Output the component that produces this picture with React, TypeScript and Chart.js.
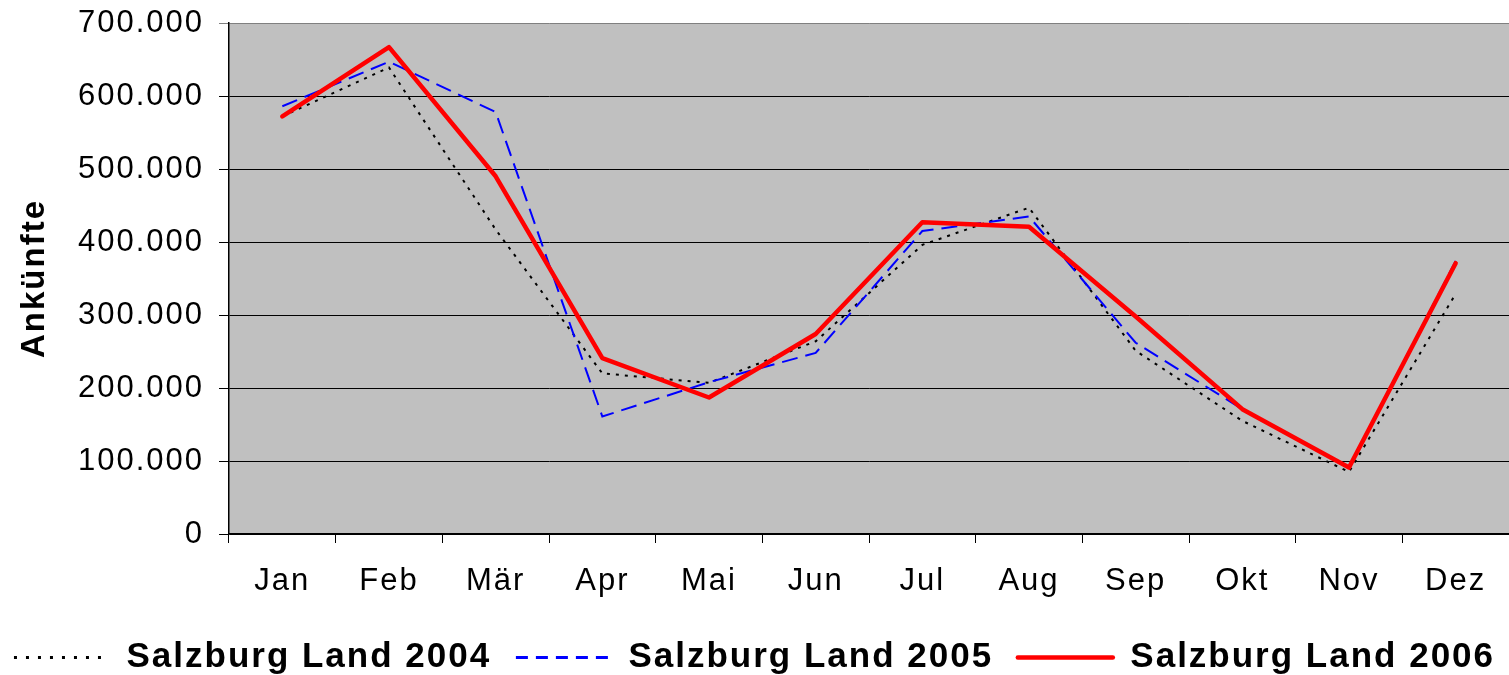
import React, { useEffect, useRef } from 'react';
import { Chart, registerables } from 'chart.js';

Chart.register(...registerables);

const months = ['Jan', 'Feb', 'Mär', 'Apr', 'Mai', 'Jun', 'Jul', 'Aug', 'Sep', 'Okt', 'Nov', 'Dez'];
const series2004 = [572000, 639000, 417000, 220000, 207000, 264000, 396000, 447000, 251000, 155000, 85000, 329000];
const series2005 = [586000, 647000, 578000, 161000, 208000, 248000, 415000, 435000, 262000, 171000, 90000, 374000];
const series2006 = [572000, 667000, 490000, 241000, 187000, 274000, 427000, 421000, 298000, 171000, 91000, 371000];
const seriesLabels = ['Salzburg Land 2004 ', 'Salzburg Land 2005 ', 'Salzburg Land 2006'];
const yTitle = 'Ankünfte';
const yMin = 0;
const yMax = 700000;
const yStep = 100000;

const FONT = '"Liberation Sans", Arial, Helvetica, sans-serif';

const fmt = (v: number) => String(v).replace(/\B(?=(\d{3})+(?!\d))/g, '.');

const spacingPlugin = {
  id: 'letterSpacing',
  beforeInit(chart: any) { chart.ctx.letterSpacing = '2px'; },
  beforeUpdate(chart: any) { chart.ctx.letterSpacing = '2px'; },
  beforeLayout(chart: any) { chart.ctx.letterSpacing = '2px'; },
  beforeDraw(chart: any) { chart.ctx.letterSpacing = '2px'; },
};

const bgPlugin = {
  id: 'plotBg',
  beforeDraw(chart: any) {
    const { ctx, chartArea } = chart;
    if (!chartArea) return;
    ctx.save();
    ctx.fillStyle = '#C0C0C0';
    ctx.fillRect(chartArea.left, chartArea.top, chartArea.right - chartArea.left, chartArea.bottom - chartArea.top);
    ctx.restore();
  },
};

const legendWidths = [3, 3, 4.5];

export default function App() {
  const ref = useRef<HTMLCanvasElement | null>(null);

  useEffect(() => {
    document.body.style.margin = '0';
    const canvas = ref.current;
    if (!canvas) return;
    const chart = new Chart(canvas, {
      type: 'line',
      data: {
        labels: months,
        datasets: [
          {
            label: seriesLabels[0],
            data: series2004,
            borderColor: '#000000',
            backgroundColor: '#000000',
            borderWidth: 2,
            borderDash: [3, 6],
            pointRadius: 0,
            tension: 0,
            order: 2,
          },
          {
            label: seriesLabels[1],
            data: series2005,
            borderColor: '#0000FF',
            backgroundColor: '#0000FF',
            borderWidth: 2,
            borderDash: [16, 8],
            pointRadius: 0,
            tension: 0,
            order: 1,
          },
          {
            label: seriesLabels[2],
            data: series2006,
            borderColor: '#FF0000',
            backgroundColor: '#FF0000',
            borderWidth: 4.5,
            borderJoinStyle: 'round',
            borderCapStyle: 'round',
            pointRadius: 0,
            tension: 0,
            order: 0,
          },
        ],
      },
      options: {
        responsive: false,
        animation: false,
        layout: { padding: { top: 23, right: 0, left: 0, bottom: -10 } },
        plugins: {
          tooltip: { enabled: false },
          legend: {
            position: 'bottom',
            labels: {
              usePointStyle: true,
              pointStyleWidth: 95,
              boxHeight: 35,
              padding: 13,
              color: '#000',
              font: { family: FONT, size: 35, weight: 'bold' },
              sort: (a: any, b: any) => a.datasetIndex - b.datasetIndex,
              generateLabels: (c: any) =>
                c.data.datasets.map((ds: any, i: number) => ({
                  text: ds.label,
                  fillStyle: 'rgba(0,0,0,0)',
                  strokeStyle: ds.borderColor,
                  lineWidth: legendWidths[i],
                  lineDash: i === 0 ? [3, 9] : i === 1 ? [12, 8] : [],
                  lineCap: i === 2 ? 'round' : 'butt',
                  pointStyle: 'line',
                  hidden: false,
                  datasetIndex: i,
                  fontColor: '#000',
                })),
            },
          },
        },
        scales: {
          x: {
            type: 'category',
            offset: true,
            grid: {
              offset: true,
              drawOnChartArea: false,
              drawTicks: true,
              tickLength: 9,
              color: '#000',
            },
            border: { color: '#000', width: 1.5 },
            ticks: {
              color: '#000',
              padding: 20,
              maxRotation: 0,
              autoSkip: false,
              font: { family: FONT, size: 31 },
            },
            afterFit: (s: any) => { s.height = 93; s.paddingLeft = 0; s.paddingRight = 0; },
          },
          y: {
            position: 'left',
            min: yMin,
            max: yMax,
            grid: {
              color: (ctx: any) => (ctx.tick && ctx.tick.value === yMax ? '#808080' : '#000'),
              lineWidth: 1,
              tickLength: 10,
              drawTicks: true,
            },
            border: { color: '#000', width: 1.5 },
            ticks: {
              stepSize: yStep,
              color: '#000',
              padding: 15,
              font: { family: FONT, size: 31 },
              callback: (v: any) => fmt(Number(v)),
            },
            title: {
              display: true,
              text: yTitle,
              color: '#000',
              font: { family: FONT, size: 33, weight: 'bold' },
              padding: { top: 15, bottom: 0 },
            },
            afterFit: (s: any) => { s.width = 229; s.paddingTop = 0; s.paddingBottom = 0; },
          },
        },
      },
      plugins: [spacingPlugin, bgPlugin],
    } as any);
    return () => chart.destroy();
  }, []);

  return (
    <div style={{ width: 1509, height: 675 }}>
      <canvas ref={ref} width={1509} height={675} style={{ display: 'block' }} />
    </div>
  );
}
